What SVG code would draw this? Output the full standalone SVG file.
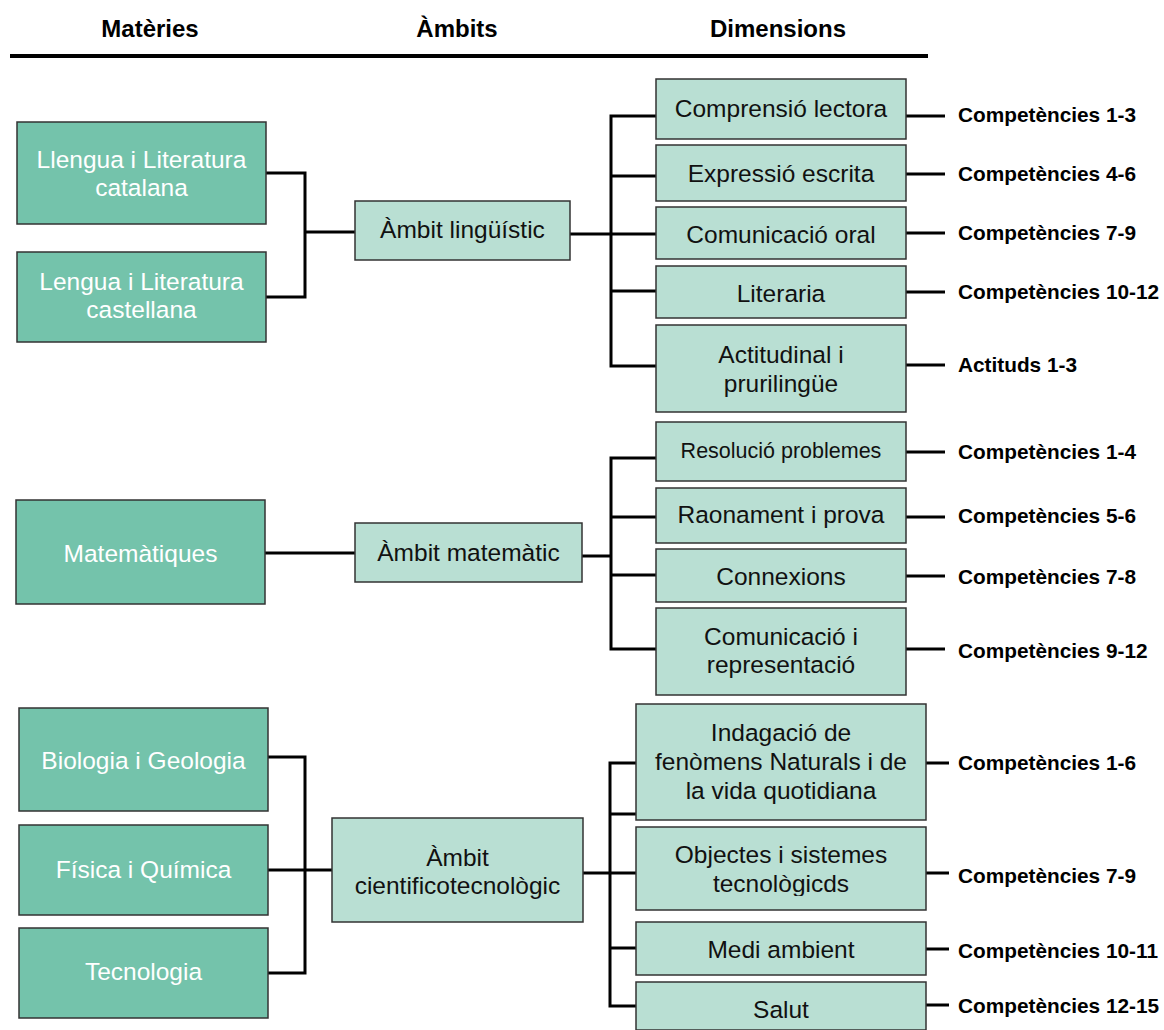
<svg xmlns="http://www.w3.org/2000/svg" width="1164" height="1030" viewBox="0 0 1164 1030">
<style>
.hdr{font-family:"Liberation Sans",Arial,sans-serif;font-weight:bold;font-size:24px;fill:#000;text-anchor:middle}
.mat rect{fill:#74C3AB;stroke:#333;stroke-width:1.5}
.mat text{font-family:"Liberation Sans",Arial,sans-serif;font-size:24.5px;fill:#fff;text-anchor:middle}
.amb rect,.dim rect{fill:#B9DFD3;stroke:#333;stroke-width:1.5}
.amb text,.dim text{font-family:"Liberation Sans",Arial,sans-serif;font-size:24.5px;fill:#111;text-anchor:middle}
.lbl{font-family:"Liberation Sans",Arial,sans-serif;font-weight:bold;font-size:20.8px;fill:#000}
.con path{fill:none;stroke:#000;stroke-width:3}
</style>
<defs>
<filter id="blur" x="-5%" y="-300%" width="110%" height="700%"><feGaussianBlur stdDeviation="1.8"/></filter>
<clipPath id="clipObj"><rect x="636" y="827" width="290" height="69"/></clipPath>
</defs>
<rect width="1164" height="1030" fill="#fff"/>
<g id="header">
<text class="hdr" x="150" y="37">Matèries</text>
<text class="hdr" x="457" y="37">Àmbits</text>
<text class="hdr" x="778" y="37">Dimensions</text>
<line x1="12" y1="60" x2="928" y2="60" stroke="#777" stroke-width="4" filter="url(#blur)"/>
<line x1="10" y1="56" x2="928" y2="56" stroke="#000" stroke-width="4"/>
</g>
<g id="connectors" class="con">
<path d="M266 173H305V297H266M305 232H355"/>
<path d="M570 234H611M656 116H611V366H656M611 176H656M611 234H656M611 291H656"/>
<path d="M906 116H945M906 174H945M906 233H945M906 292H945M906 365H945"/>
<path d="M265 553H355"/>
<path d="M582 556H611M656 458H611V649H656M611 517H656M611 575H656"/>
<path d="M906 452H945M906 517H945M906 576H945M906 649H945"/>
<path d="M268 757H305V973H268M268 870H332"/>
<path d="M583 873H610M636 763H610V1006H636M610 814H636M610 873H636M610 948H636"/>
<path d="M926 763H949M926 873H949M926 949H949M926 1005H949"/>
</g>
<g id="mat-catalana" class="mat"><rect x="17" y="122" width="249" height="102"/><text x="141.5" y="168">Llengua i Literatura</text><text x="141.5" y="196">catalana</text></g>
<g id="mat-castellana" class="mat"><rect x="17" y="252" width="249" height="90"/><text x="141.5" y="290">Lengua i Literatura</text><text x="141.5" y="318">castellana</text></g>
<g id="mat-matematiques" class="mat"><rect x="16" y="500" width="249" height="104"/><text x="140.5" y="562">Matemàtiques</text></g>
<g id="mat-biologia" class="mat"><rect x="19" y="708" width="249" height="103"/><text x="143.5" y="769">Biologia i Geologia</text></g>
<g id="mat-fisica" class="mat"><rect x="19" y="825" width="249" height="90"/><text x="143.5" y="878">Física i Química</text></g>
<g id="mat-tecnologia" class="mat"><rect x="19" y="928" width="249" height="90"/><text x="143.5" y="980">Tecnologia</text></g>
<g id="amb-linguistic" class="amb"><rect x="355" y="201" width="215" height="59"/><text x="462.5" y="238">Àmbit lingüístic</text></g>
<g id="amb-matematic" class="amb"><rect x="355" y="523" width="227" height="59"/><text x="468.5" y="561">Àmbit matemàtic</text></g>
<g id="amb-cientific" class="amb"><rect x="332" y="818" width="251" height="104"/><text x="457.5" y="866">Àmbit</text><text x="457.5" y="894">cientificotecnològic</text></g>
<g id="dim-comprensio" class="dim"><rect x="656" y="79" width="250" height="60"/><text x="781" y="117">Comprensió lectora</text></g>
<g id="dim-expressio" class="dim"><rect x="656" y="145" width="250" height="56"/><text x="781" y="182">Expressió escrita</text></g>
<g id="dim-comoral" class="dim"><rect x="656" y="207" width="250" height="52"/><text x="781" y="243">Comunicació oral</text></g>
<g id="dim-literaria" class="dim"><rect x="656" y="266" width="250" height="52"/><text x="781" y="302">Literaria</text></g>
<g id="dim-actitudinal" class="dim"><rect x="656" y="325" width="250" height="87"/><text x="781" y="363">Actitudinal i</text><text x="781" y="392">prurilingüe</text></g>
<g id="dim-resolucio" class="dim"><rect x="656" y="422" width="250" height="59"/><text x="781" y="458" style="font-size:21.5px">Resolució problemes</text></g>
<g id="dim-raonament" class="dim"><rect x="656" y="488" width="250" height="55"/><text x="781" y="523">Raonament i prova</text></g>
<g id="dim-connexions" class="dim"><rect x="656" y="549" width="250" height="53"/><text x="781" y="585">Connexions</text></g>
<g id="dim-comrep" class="dim"><rect x="656" y="608" width="250" height="87"/><text x="781" y="645">Comunicació i</text><text x="781" y="673">representació</text></g>
<g id="dim-indagacio" class="dim"><rect x="636" y="704" width="290" height="116"/><text x="781" y="741">Indagació de</text><text x="781" y="770">fenòmens Naturals i de</text><text x="781" y="799">la vida quotidiana</text></g>
<g id="dim-objectes" class="dim"><rect x="636" y="827" width="290" height="83"/><text x="781" y="863">Objectes i sistemes</text><text x="781" y="892" clip-path="url(#clipObj)">tecnològicds</text></g>
<g id="dim-medi" class="dim"><rect x="636" y="922" width="290" height="53"/><text x="781" y="958">Medi ambient</text></g>
<g id="dim-salut" class="dim"><rect x="636" y="982" width="290" height="48"/><text x="781" y="1018">Salut</text></g>
<g id="labels">
<text class="lbl" x="958" y="122">Competències 1-3</text>
<text class="lbl" x="958" y="181">Competències 4-6</text>
<text class="lbl" x="958" y="240">Competències 7-9</text>
<text class="lbl" x="958" y="299">Competències 10-12</text>
<text class="lbl" x="958" y="372">Actituds 1-3</text>
<text class="lbl" x="958" y="459">Competències 1-4</text>
<text class="lbl" x="958" y="523">Competències 5-6</text>
<text class="lbl" x="958" y="584">Competències 7-8</text>
<text class="lbl" x="958" y="658">Competències 9-12</text>
<text class="lbl" x="958" y="770">Competències 1-6</text>
<text class="lbl" x="958" y="883">Competències 7-9</text>
<text class="lbl" x="958" y="958">Competències 10-11</text>
<text class="lbl" x="958" y="1013">Competències 12-15</text>
</g>
</svg>
